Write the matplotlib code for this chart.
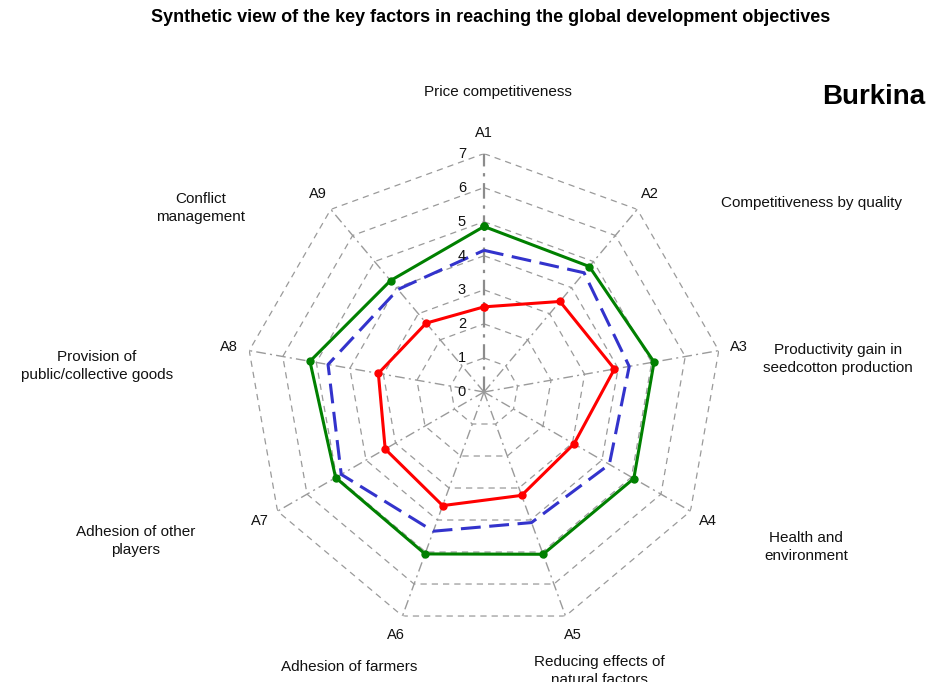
import numpy as np
import matplotlib
matplotlib.use("Agg")
import matplotlib.pyplot as plt

plt.rcParams['font.family'] = ['Liberation Sans', 'DejaVu Sans']

axes_labels = ["A1", "A2", "A3", "A4", "A5", "A6", "A7", "A8", "A9"]
descriptions = [
    "Price competitiveness",
    "Competitiveness by quality",
    "Productivity gain in\nseedcotton production",
    "Health and\nenvironment",
    "Reducing effects of\nnatural factors",
    "Adhesion of farmers",
    "Adhesion of other\nplayers",
    "Provision of\npublic/collective goods",
    "Conflict\nmanagement",
]
green_vals = [4.86, 4.81, 5.07, 5.08, 5.07, 5.06, 5.03, 5.19, 4.27]
blue_vals = [4.16, 4.57, 4.33, 4.25, 4.08, 4.35, 4.84, 4.65, 3.93]
red_vals = [2.50, 3.47, 3.89, 3.05, 3.23, 3.55, 3.35, 3.15, 2.64]
ring_ticks = [0, 1, 2, 3, 4, 5, 6, 7]

W, H = 928, 682
fig = plt.figure(figsize=(W / 100, H / 100), dpi=100)

cx, cy, R = 484, 392, 238.4
ax = fig.add_axes([(cx - R) / W, (H - cy - R) / H, 2 * R / W, 2 * R / H], projection='polar')
ax.set_theta_zero_location('N')
ax.set_theta_direction(-1)
ax.set_ylim(0, 7)
ax.grid(False)
ax.spines['polar'].set_visible(False)
ax.set_xticks([])
ax.set_yticks([])
ax.patch.set_alpha(0)

n = len(axes_labels)
theta = np.arange(n) * 2 * np.pi / n
theta_c = np.append(theta, theta[0])

grid_col = '#9a9a9a'
# polygon rings
for r in ring_ticks[1:]:
    ax.plot(theta_c, [r] * (n + 1), color=grid_col, lw=0.9, ls=(0, (5, 4)), zorder=1)
# radial axes
for i, t in enumerate(theta):
    ax.plot([t, t], [0, ring_ticks[-1]], color='#8c8c8c' if i == 0 else grid_col,
            lw=1.6 if i == 0 else 1.0, ls=(0, (7, 3, 1.5, 3)), zorder=1)

def close(v):
    return list(v) + [v[0]]

ax.plot(theta_c, close(green_vals), color='#008000', lw=2.2, marker='o', ms=5, zorder=4)
ax.plot(theta_c, close(blue_vals), color='#3333cc', lw=2.2, ls=(0, (6.5, 2.8)), zorder=3)
ax.plot(theta_c, close(red_vals), color='#ff0000', lw=2.2, marker='o', ms=5, zorder=5)

# ring tick labels
for r in ring_ticks:
    ax.annotate(str(r), xy=(0, r), xytext=(-13, 0), textcoords='offset points',
                ha='right', va='center', fontsize=10.5, color='#111111')

# axis labels
for t, lab in zip(theta, axes_labels):
    ax.text(t, 7.6, lab, ha='center', va='center', fontsize=10.5, color='#111111')

# descriptions (pixel centers)
desc_pos = [(498, 92), (812, 203), (838, 359), (806, 547), (599, 671),
            (349, 667), (136, 541), (97, 366), (201, 208)]
for (px, py), d in zip(desc_pos, descriptions):
    fig.text(px / W, 1 - py / H, d, ha='center', va='center', fontsize=11,
             linespacing=1.42, color='#111111')

fig.text(491 / W, 1 - 18 / H, "Synthetic view of the key factors in reaching the global development objectives",
         ha='center', va='center', fontsize=13, fontweight='bold')
fig.text(925 / W, 1 - 97 / H, "Burkina", ha='right', va='center', fontsize=20, fontweight='bold')

fig.savefig('out.png', dpi=100)
